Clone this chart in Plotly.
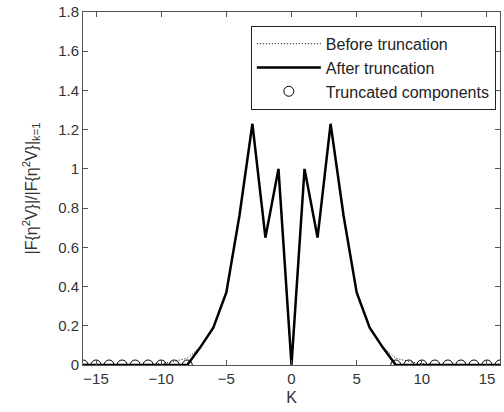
import plotly.graph_objects as go

K = list(range(-16, 17))
after_half = [0.0, 1.0, 0.65, 1.23, 0.76, 0.37, 0.19, 0.09, 0.0, 0.0, 0.0, 0.0, 0.0, 0.0, 0.0, 0.0, 0.0]
before_half = [0.0, 1.0, 0.65, 1.23, 0.76, 0.37, 0.19, 0.09, 0.035, 0.018, 0.006, 0.003, 0.002, 0.001, 0.001, 0.001, 0.001]
after = after_half[:0:-1] + after_half
before = before_half[:0:-1] + before_half
trunc_K = [k for k in K if abs(k) >= 8]
trunc_vals = [0.0 for _ in trunc_K]

xticks = [-15, -10, -5, 0, 5, 10, 15]
yticks = [0, 0.2, 0.4, 0.6, 0.8, 1.0, 1.2, 1.4, 1.6, 1.8]
yticklabels = ["0", "0.2", "0.4", "0.6", "0.8", "1", "1.2", "1.4", "1.6", "1.8"]

fig = go.Figure()
fig.add_trace(go.Scatter(x=K, y=before, mode="lines", name="Before truncation",
                         line=dict(color="black", width=1, dash="1px,2px")))
fig.add_trace(go.Scatter(x=K, y=after, mode="lines", name="After truncation",
                         line=dict(color="black", width=2.5)))
fig.add_trace(go.Scatter(x=trunc_K, y=trunc_vals, mode="markers", name="Truncated components",
                         marker=dict(symbol="circle-open", size=10, color="black", line=dict(width=1))))

axis_common = dict(showline=True, linecolor="#555", linewidth=1, mirror="ticks",
                   ticks="inside", ticklen=5, tickcolor="#555", showgrid=False, zeroline=False,
                   tickfont=dict(family="Liberation Sans, Arial", size=15, color="#333"))

fig.update_layout(
    width=504, height=412,
    margin=dict(l=83, r=3, t=9, b=47),
    paper_bgcolor="white", plot_bgcolor="white",
    font=dict(family="Liberation Sans, Arial", size=15, color="#333"),
    xaxis=dict(range=[-16, 16], tickvals=xticks, title=dict(text="K", standoff=5,
               font=dict(size=16)), **axis_common),
    yaxis=dict(range=[0, 1.8], tickvals=yticks, ticktext=yticklabels,
               title=dict(text="|F{η<sup>2</sup>V}|/|F{η<sup>2</sup>V}|<sub>k=1</sub>", standoff=16,
                          font=dict(size=16)), **axis_common),
    legend=dict(x=0.99, y=0.961, xanchor="right", yanchor="top", bgcolor="white",
                bordercolor="#222", borderwidth=1, font=dict(size=16, color="#222"),
                itemwidth=64, tracegroupgap=0),
    showlegend=True,
)

fig.write_html("out.html")
